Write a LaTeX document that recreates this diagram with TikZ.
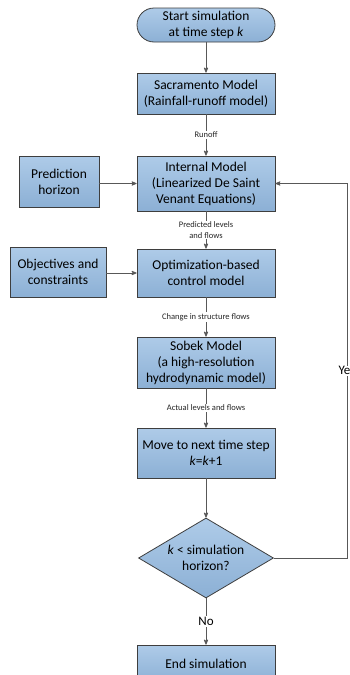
\documentclass[tikz,border=0pt]{standalone}
\usepackage{fontspec}
\setmainfont{Carlito}
\usetikzlibrary{arrows,shapes.geometric}
\definecolor{boxtop}{RGB}{174,203,232}
\definecolor{boxbot}{RGB}{140,176,213}
\definecolor{boxline}{RGB}{62,62,62}
\definecolor{flowgray}{RGB}{88,88,88}

\begin{document}
\begin{tikzpicture}[x=1pt,y=-1pt]
\tikzset{flowbox/.style={draw=boxline,line width=0.8pt,top color=boxtop,bottom color=boxbot,
  minimum width=138pt,align=center,inner sep=2pt,font=\fontsize{13.5}{16}\selectfont}}
\tikzset{startstop/.style={flowbox,rounded corners=17pt,minimum height=34pt}}
\tikzset{decision/.style={flowbox,diamond,minimum width=135pt,minimum height=80pt,inner sep=0pt}}
\tikzset{flowline/.style={draw=flowgray,line width=0.8pt,->,>=stealth'}}
\tikzset{edgelabel/.style={fill=white,inner sep=1pt,align=center,text=black!85,font=\fontsize{8.5}{10.5}\selectfont}}
\tikzset{answer/.style={fill=white,inner sep=1pt,font=\fontsize{13}{15}\selectfont}}

\useasboundingbox (0,0) rectangle (349,675);

% main column
\node[startstop] (start) at (206,25) {Start simulation\\at time step \textit{k}};
\node[flowbox,minimum height=41pt] (sac) at (206,93.5) {Sacramento Model\\(Rainfall-runoff model)};
\node[flowbox,minimum height=55pt] (internal) at (206,183.5) {Internal Model\\(Linearized De Saint\\Venant Equations)};
\node[flowbox,minimum height=48pt] (opt) at (206,273) {Optimization-based\\control model};
\node[flowbox,minimum height=51pt] (sobek) at (206,362.5) {Sobek Model\\(a high-resolution\\hydrodynamic model)};
\node[flowbox,minimum height=50pt] (move) at (206,453) {Move to next time step\\\textit{k}=\textit{k}+1};
\node[decision,label={[align=center,font=\fontsize{13.5}{16}\selectfont]center:\textit{k} < simulation\\horizon?}] (dec) at (206,558) {};
\node[flowbox,minimum height=38pt] (finish) at (206,664) {End simulation};

% side inputs
\node[flowbox,minimum width=80pt,minimum height=51pt] (pred) at (59,181.5) {Prediction\\horizon};
\node[flowbox,minimum width=96pt,minimum height=50pt] (obj) at (58,272) {Objectives and\\constraints};

\coordinate (loopx) at (347,0);

\draw[flowline] (start) -- (sac);
\draw[flowline] (sac) -- node[edgelabel]{Runoff} (internal);
\draw[flowline] (pred.east |- internal) -- (internal);
\draw[flowline] (internal) -- node[edgelabel]{Predicted levels\\and flows} (opt);
\draw[flowline] (obj.east |- opt) -- (opt);
\draw[flowline] (opt) -- node[edgelabel]{Change in structure flows} (sobek);
\draw[flowline] (sobek) -- node[edgelabel]{Actual levels and flows} (move);
\draw[flowline] (move) -- (dec);
\draw[flowline] (dec) -- node[answer]{No} (finish);
\draw[flowline] (dec.east) -- (dec.east -| loopx) -- node[answer]{Yes} (internal.east -| loopx) -- (internal.east);

\end{tikzpicture}
\end{document}
